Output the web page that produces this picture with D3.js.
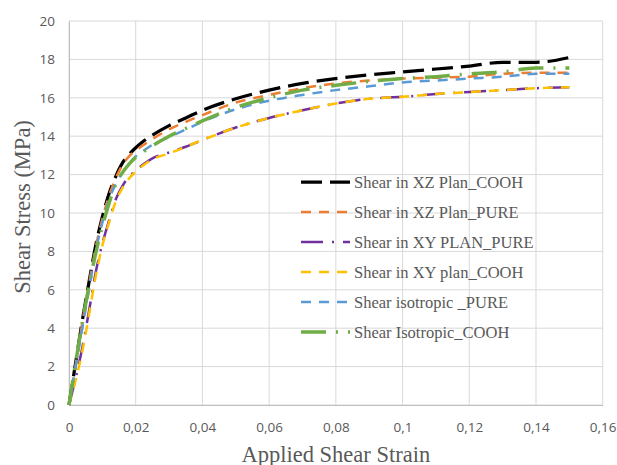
<!DOCTYPE html>
<html>
<head>
<meta charset="utf-8">
<script src="https://cdn.jsdelivr.net/npm/d3@7"></script>
<style>
html,body{margin:0;padding:0;background:#fff;}
svg{display:block;}
</style>
</head>
<body>
<svg id="chart" width="617" height="465"></svg>
<script>
// ---- data ----
const xTicks = [0, 0.02, 0.04, 0.06, 0.08, 0.1, 0.12, 0.14, 0.16];
const xTickLabels = ["0", "0,02", "0,04", "0,06", "0,08", "0,1", "0,12", "0,14", "0,16"];
const yTicks = [0, 2, 4, 6, 8, 10, 12, 14, 16, 18, 20];
const yTickLabels = ["0", "2", "4", "6", "8", "10", "12", "14", "16", "18", "20"];

const seriesNames = [
  "Shear in XZ Plan_COOH",
  "Shear in XZ Plan_PURE",
  "Shear in XY PLAN_PURE",
  "Shear in XY plan_COOH",
  "Shear isotropic _PURE",
  "Shear Isotropic_COOH"
];

const strain = [0, 0.002, 0.004, 0.006, 0.008, 0.010, 0.012, 0.014, 0.016, 0.018, 0.020, 0.022, 0.025, 0.030, 0.035, 0.040, 0.050, 0.060, 0.070, 0.080, 0.090, 0.100, 0.110, 0.120, 0.130, 0.140, 0.150];

const xzCooh  = [0, 2.2, 4.4, 6.4, 8.3, 9.8, 11.0, 11.9, 12.6, 13.05, 13.4, 13.7, 14.05, 14.55, 14.95, 15.35, 15.95, 16.4, 16.75, 17.0, 17.2, 17.35, 17.5, 17.65, 17.85, 17.85, 18.1];
const xzPure  = [0, 2.1, 4.3, 6.3, 8.2, 9.7, 10.9, 11.8, 12.5, 12.95, 13.25, 13.5, 13.85, 14.35, 14.75, 15.1, 15.75, 16.15, 16.5, 16.75, 16.9, 17.0, 17.05, 17.1, 17.25, 17.3, 17.3];
const xyPure  = [0, 1.4, 3.0, 4.9, 6.9, 8.4, 9.6, 10.7, 11.4, 11.9, 12.2, 12.5, 12.85, 13.15, 13.45, 13.8, 14.45, 14.95, 15.35, 15.7, 15.95, 16.05, 16.2, 16.3, 16.4, 16.5, 16.55];
const xyCooh  = [0, 1.3, 2.8, 4.7, 6.7, 8.3, 9.5, 10.6, 11.3, 11.8, 12.15, 12.45, 12.8, 13.1, 13.45, 13.8, 14.45, 14.95, 15.35, 15.7, 15.95, 16.05, 16.2, 16.3, 16.4, 16.5, 16.55];
const isoPure = [0, 2.0, 4.0, 6.0, 8.0, 9.5, 10.7, 11.5, 12.1, 12.55, 12.95, 13.2, 13.55, 13.95, 14.35, 14.75, 15.4, 15.85, 16.15, 16.4, 16.6, 16.8, 16.9, 17.0, 17.1, 17.25, 17.25];
const isoCooh = [0, 2.2, 4.3, 6.2, 7.9, 9.3, 10.5, 11.5, 12.1, 12.55, 12.9, 13.15, 13.5, 14.0, 14.4, 14.8, 15.5, 16.0, 16.4, 16.65, 16.85, 17.0, 17.1, 17.25, 17.35, 17.55, 17.55];

const seriesValues = [xzCooh, xzPure, xyPure, xyCooh, isoPure, isoCooh];

// ---- styles ----
const colors = ["#000000", "#ED7D31", "#7030A0", "#FFC000", "#5B9BD5", "#70AD47"];
const widths = [3.25, 2.5, 2.5, 2.5, 2.5, 3.5];
const dashes = ["21,8", "10,8", "22,9,2,9", "10,8", "10,8", "25,10,2,10"];

// ---- layout ----
const W = 617, H = 465;
const margin = {left: 69, top: 21, right: 14.3, bottom: 60};
const svg = d3.select("#chart");

const x = d3.scaleLinear().domain([0, 0.16]).range([margin.left, W - margin.right]);
const y = d3.scaleLinear().domain([0, 20]).range([H - margin.bottom, margin.top]);

// gridlines
const grid = svg.append("g");
grid.selectAll("line.h").data(yTicks).join("line")
  .attr("x1", x(0)).attr("x2", x(0.16))
  .attr("y1", d => y(d)).attr("y2", d => y(d))
  .attr("stroke", "#d9d9d9").attr("stroke-width", 1);
grid.selectAll("line.v").data(xTicks).join("line")
  .attr("x1", d => x(d)).attr("x2", d => x(d))
  .attr("y1", y(0)).attr("y2", y(20))
  .attr("stroke", "#d9d9d9").attr("stroke-width", 1);

// axes
const xAxis = d3.axisBottom(x).tickValues(xTicks)
  .tickFormat((d, i) => xTickLabels[i]).tickSize(0).tickPadding(17);
const gx = svg.append("g").attr("transform", `translate(0,${y(0)})`).call(xAxis);
gx.select(".domain").attr("stroke", "#bfbfbf");
gx.selectAll("text").attr("font-family", "'Open Sans', sans-serif").attr("font-size", 13.5).attr("fill", "#595959");

const yAxis = d3.axisLeft(y).tickValues(yTicks)
  .tickFormat((d, i) => yTickLabels[i]).tickSize(0).tickPadding(14);
const gy = svg.append("g").attr("transform", `translate(${x(0)},0)`).call(yAxis);
gy.select(".domain").attr("stroke", "#bfbfbf");
gy.selectAll("text").attr("font-family", "'Open Sans', sans-serif").attr("font-size", 13.5).attr("fill", "#595959");

// series
const line = d3.line().x(d => x(d[0])).y(d => y(d[1])).curve(d3.curveMonotoneX);
seriesValues.forEach((vals, i) => {
  const pts = strain.map((s, j) => [s, vals[j]]);
  svg.append("path").datum(pts)
    .attr("d", line)
    .attr("fill", "none")
    .attr("stroke", colors[i])
    .attr("stroke-width", widths[i])
    .attr("stroke-dasharray", dashes[i]);
});

// axis titles
svg.append("text")
  .attr("x", (x(0) + x(0.16)) / 2).attr("y", 461.5)
  .attr("text-anchor", "middle")
  .attr("font-family", "'Liberation Serif', 'Times New Roman', serif")
  .attr("font-size", 22.5).attr("fill", "#595959")
  .text("Applied Shear Strain");

svg.append("text")
  .attr("transform", `translate(30,207) rotate(-90)`)
  .attr("text-anchor", "middle")
  .attr("font-family", "'Liberation Serif', 'Times New Roman', serif")
  .attr("font-size", 22.5).attr("fill", "#595959")
  .text("Shear Stress (MPa)");

// legend
const legend = svg.append("g").attr("transform", "translate(301,182)");
seriesNames.forEach((name, i) => {
  const g = legend.append("g").attr("transform", `translate(0,${i * 30})`);
  g.append("line").attr("x1", 0).attr("x2", 49).attr("y1", 0).attr("y2", 0)
    .attr("stroke", colors[i]).attr("stroke-width", widths[i])
    .attr("stroke-dasharray", dashes[i]);
  g.append("text").attr("x", 53).attr("y", 0).attr("dy", "0.35em")
    .attr("font-family", "'Liberation Serif', 'Times New Roman', serif")
    .attr("font-size", 16.5).attr("fill", "#595959")
    .text(name);
});
</script>
</body>
</html>
